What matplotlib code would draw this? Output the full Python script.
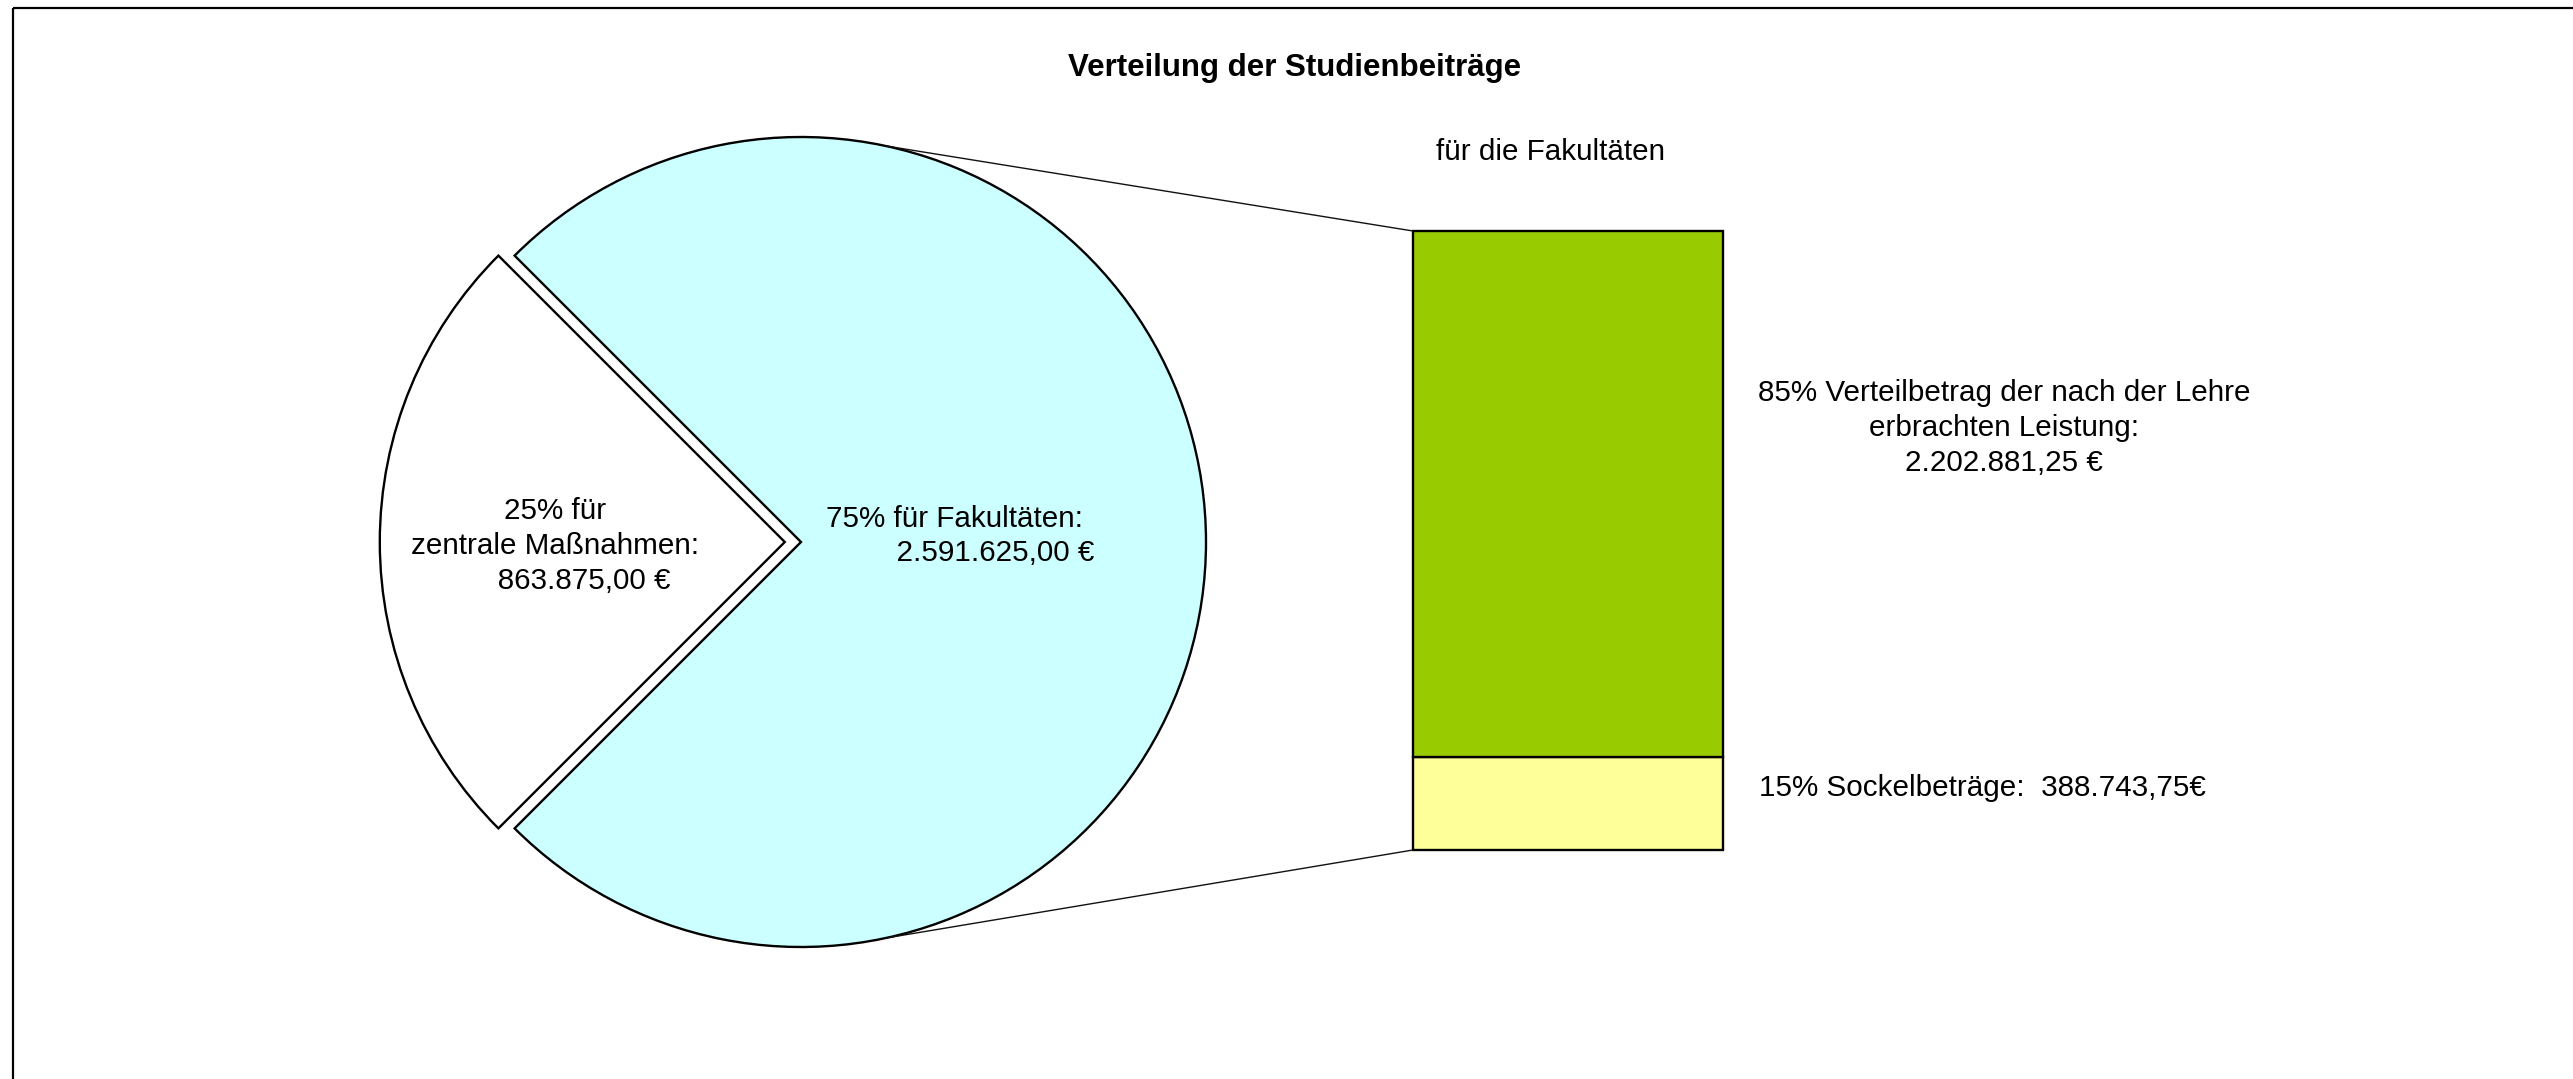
import numpy as np
import matplotlib
matplotlib.use("Agg")
import matplotlib.pyplot as plt
from matplotlib.patches import ConnectionPatch, Rectangle

plt.rcParams['font.family'] = ['Liberation Sans', 'DejaVu Sans']

# ---- data ----
title = "Verteilung der Studienbeiträge"
bar_title = "für die Fakultäten"
pie_pcts = [25, 75]
pie_values = [863875.00, 2591625.00]
pie_colors = ['#FFFFFF', '#CCFFFF']
bar_pcts = [15, 85]
bar_values = [388743.75, 2202881.25]
bar_colors = ['#FFFF99', '#99CC00']


def eur(v):
    s = f"{v:,.2f}"
    return s.replace(',', 'X').replace('.', ',').replace('X', '.')


W, H = 2573, 1079
fig = plt.figure(figsize=(W / 100, H / 100), dpi=100)
fig.patch.set_facecolor('white')

# ---- pie ----
cx, cy, r = 801, 542, 405
half = 1.1 * r
ax1 = fig.add_axes([(cx - half) / W, (H - cy - half) / H, 2 * half / W, 2 * half / H])
ax1.pie(pie_values, explode=[0.04, 0], startangle=135, colors=pie_colors,
        radius=1, wedgeprops=dict(edgecolor='black', linewidth=1.7))
ax1.set_xlim(-1.1, 1.1)
ax1.set_ylim(-1.1, 1.1)
ax1.set_aspect('equal')
ax1.axis('off')

# ---- bar ----
bx0, bx1, by0, by1 = 1413, 1723, 231, 850
ax2 = fig.add_axes([bx0 / W, (H - by1) / H, (bx1 - bx0) / W, (by1 - by0) / H])
bottom = 0
for v, c in zip(bar_values, bar_colors):
    b = ax2.bar(0, v, width=1, bottom=bottom, color=c, edgecolor='black', linewidth=1.7)
    for p in b:
        p.set_clip_on(False)
    bottom += v
total = bottom
ax2.set_xlim(-0.5, 0.5)
ax2.set_ylim(0, total)
ax2.axis('off')

# ---- connection lines ----
theta = np.deg2rad(78)
for sgn, ytarget in [(1, total), (-1, 0)]:
    con = ConnectionPatch(xyA=(-0.5, ytarget), coordsA=ax2.transData,
                          xyB=(np.cos(theta), sgn * np.sin(theta)), coordsB=ax1.transData,
                          color='#111111', linewidth=1.0)
    fig.add_artist(con)

# ---- overlay for text and frame ----
ax0 = fig.add_axes([0, 0, 1, 1], zorder=10)
ax0.set_xlim(0, W)
ax0.set_ylim(H, 0)
ax0.patch.set_alpha(0)
ax0.axis('off')

ax0.add_patch(Rectangle((13, 8), W + 50, H + 50, fill=False, edgecolor='black',
                        linewidth=1.6, clip_on=False))

fs = 21.3
ls = 1.3
ax0.text(1295, 68, title, ha='center', va='center', fontsize=22.5, fontweight='bold')
ax0.text(1550, 152, bar_title, ha='center', va='center', fontsize=fs)

lab_small = f"{pie_pcts[0]}% für\nzentrale Maßnahmen:\n{' ' * 7}{eur(pie_values[0])} €"
lab_big = f"{pie_pcts[1]}% für Fakultäten:\n{' ' * 10}{eur(pie_values[1])} €"
ax0.text(555, 546, lab_small, ha='center', va='center', multialignment='center',
         fontsize=fs, linespacing=ls)
ax0.text(954, 536, lab_big, ha='center', va='center', multialignment='center',
         fontsize=fs, linespacing=ls)

lab_top = f"{bar_pcts[1]}% Verteilbetrag der nach der Lehre\nerbrachten Leistung:\n{eur(bar_values[1])} €"
lab_bot = f"{bar_pcts[0]}% Sockelbeträge:  {eur(bar_values[0])}€"
ax0.text(2004, 428, lab_top, ha='center', va='center', multialignment='center',
         fontsize=fs, linespacing=ls)
ax0.text(1759, 788, lab_bot, ha='left', va='center', fontsize=fs)

fig.savefig('out.png', dpi=100, facecolor='white')
